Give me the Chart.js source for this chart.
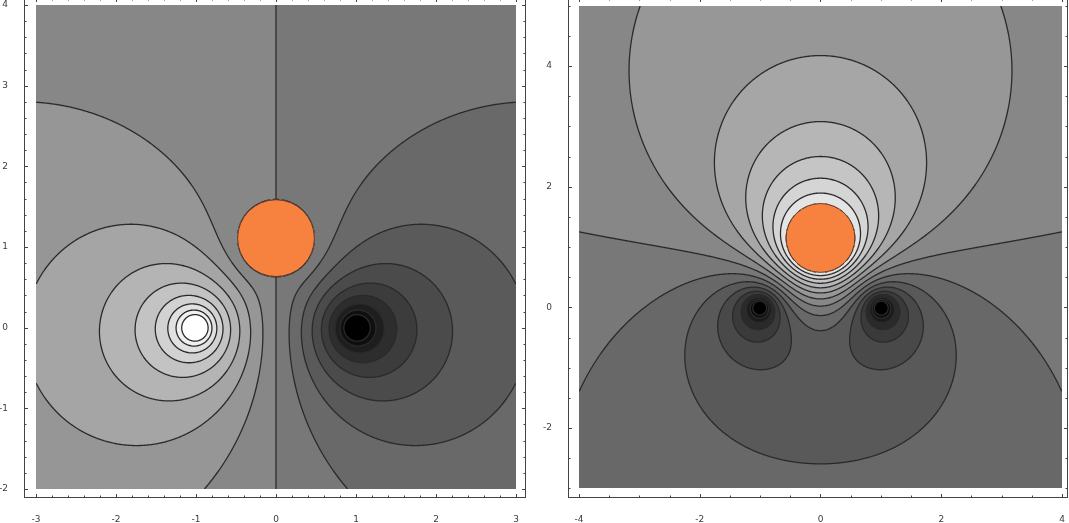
<!DOCTYPE html>
<html>
<head>
<meta charset="utf-8">
<script src="https://cdn.jsdelivr.net/npm/chart.js@4.4.1/dist/chart.umd.min.js"></script>
<style>
  html, body { margin: 0; padding: 0; background: #fff; overflow: hidden; }
  #wrap { position: relative; width: 1069px; height: 523px; overflow: hidden; }
  .box { position: absolute; top: -3px; }
  #boxA { left: 0; }
  #boxB { left: 536px; }
</style>
</head>
<body>
<div id="wrap">
  <div class="box" id="boxA"><canvas id="chartA" width="536" height="526"></canvas></div>
  <div class="box" id="boxB"><canvas id="chartB" width="533" height="526"></canvas></div>
</div>
<script>
// left panel: +1 / -1 line charges and a grounded cylinder above them
const chargeXA = [-1, 1];
const chargeYA = [0, 0];
const chargeQA = [1, -1];
const cylCenterA = [0, 1.11];
const cylRadiusA = 0.48;
const levelsA = [-2.4, -2.1, -1.8, -1.5, -1.2, -0.9, -0.6, -0.3, 0, 0.3, 0.6, 0.9, 1.2, 1.5, 1.8, 2.1, 2.4];
const xTicksA = [-3, -2, -1, 0, 1, 2, 3];
const yTicksA = [-2, -1, 0, 1, 2, 3, 4];

// right panel: two -1 line charges and the cylinder
const chargeXB = [-1, 1];
const chargeYB = [0, 0];
const chargeQB = [-1, -1];
const cylCenterB = [0, 1.15];
const cylRadiusB = 0.57;
const levelsB = [-2.165, -1.889, -1.613, -1.337, -1.061, -0.785, -0.509, -0.233, 0.043, 0.319, 0.595, 0.871, 1.147, 1.423, 1.699, 1.975];
const xTicksB = [-4, -2, 0, 2, 4];
const yTicksB = [-2, 0, 2, 4];

// charges plus their images in the cylinder
function buildSources(xs, ys, qs, center, r) {
    const src = [];
    for (let i = 0; i < xs.length; i++) {
        src.push({ x: xs[i], y: ys[i], q: qs[i] });
        const dx = xs[i] - center[0], dy = ys[i] - center[1];
        const k = r * r / (dx * dx + dy * dy);
        src.push({ x: center[0] + k * dx, y: center[1] + k * dy, q: -qs[i] });
    }
    return src;
}

function potential(src, x, y) {
    let v = 0;
    for (const s of src) {
        const dx = x - s.x, dy = y - s.y;
        v -= s.q * 0.5 * Math.log(dx * dx + dy * dy + 1e-12);
    }
    return v;
}

const fieldPlugin = {
    id: 'field',
    beforeDatasetsDraw(chart, args, o) {
        const ctx = chart.ctx;
        const xs = chart.scales.x, ys = chart.scales.y;
        const left = Math.round(xs.getPixelForValue(o.xRange[0]));
        const right = Math.round(xs.getPixelForValue(o.xRange[1]));
        const top = Math.round(ys.getPixelForValue(o.yRange[1]));
        const bottom = Math.round(ys.getPixelForValue(o.yRange[0]));
        const w = right - left, h = bottom - top;
        const vals = new Float64Array(w * h);
        const xv = new Float64Array(w), yv = new Float64Array(h);
        for (let i = 0; i < w; i++) xv[i] = xs.getValueForPixel(left + i + 0.5);
        for (let j = 0; j < h; j++) yv[j] = ys.getValueForPixel(top + j + 0.5);
        for (let j = 0; j < h; j++) {
            for (let i = 0; i < w; i++) vals[j * w + i] = potential(o.sources, xv[i], yv[j]);
        }
        const levels = o.levels;

        // shaded bands
        const off = document.createElement('canvas');
        off.width = w; off.height = h;
        const octx = off.getContext('2d');
        const img = octx.createImageData(w, h);
        for (let k = 0; k < w * h; k++) {
            let band = 0;
            while (band < levels.length && vals[k] > levels[band]) band++;
            const g = Math.max(0, Math.min(255, Math.round(o.refGray + (band - o.refBand) * o.step)));
            img.data[4 * k] = g; img.data[4 * k + 1] = g; img.data[4 * k + 2] = g; img.data[4 * k + 3] = 255;
        }
        octx.putImageData(img, 0, 0);
        ctx.drawImage(off, left, top);

        // contour lines (marching squares on the pixel grid)
        const cx = o.center[0], cy = o.center[1], cr = o.radius;
        ctx.save();
        ctx.beginPath();
        ctx.rect(left, top, w, h);
        ctx.clip();
        ctx.beginPath();
        const ox = left + 0.5, oy = top + 0.5;
        for (let j = 0; j < h - 1; j++) {
            for (let i = 0; i < w - 1; i++) {
                const mx = (xv[i] + xv[i + 1]) / 2 - cx, my = (yv[j] + yv[j + 1]) / 2 - cy;
                if (mx * mx + my * my < cr * cr) continue;
                const a = vals[j * w + i], b = vals[j * w + i + 1];
                const c = vals[(j + 1) * w + i + 1], d = vals[(j + 1) * w + i];
                const lo = Math.min(a, b, c, d), hi = Math.max(a, b, c, d);
                for (const L of levels) {
                    if (L <= lo || L > hi) continue;
                    const pts = [];
                    if ((a >= L) !== (b >= L)) pts.push([i + (L - a) / (b - a), j]);
                    if ((b >= L) !== (c >= L)) pts.push([i + 1, j + (L - b) / (c - b)]);
                    if ((d >= L) !== (c >= L)) pts.push([i + (L - d) / (c - d), j + 1]);
                    if ((a >= L) !== (d >= L)) pts.push([i, j + (L - a) / (d - a)]);
                    if (pts.length === 2) {
                        ctx.moveTo(ox + pts[0][0], oy + pts[0][1]);
                        ctx.lineTo(ox + pts[1][0], oy + pts[1][1]);
                    } else if (pts.length === 4) {
                        const mid = (a + b + c + d) / 4;
                        const pairs = ((mid >= L) === (a >= L)) ? [[0, 1], [2, 3]] : [[0, 3], [1, 2]];
                        for (const p of pairs) {
                            ctx.moveTo(ox + pts[p[0]][0], oy + pts[p[0]][1]);
                            ctx.lineTo(ox + pts[p[1]][0], oy + pts[p[1]][1]);
                        }
                    }
                }
            }
        }
        ctx.strokeStyle = '#2a2a2a';
        ctx.lineWidth = 1.3;
        ctx.lineCap = 'round';
        ctx.stroke();
        ctx.restore();
    }
};

const framePlugin = {
    id: 'frame',
    afterDraw(chart, args, o) {
        const ctx = chart.ctx, ca = chart.chartArea;
        const xs = chart.scales.x, ys = chart.scales.y;
        ctx.save();
        ctx.strokeStyle = '#444';
        ctx.lineWidth = 1;
        ctx.strokeRect(ca.left + 0.5, ca.top + 0.5, ca.right - ca.left - 1, ca.bottom - ca.top - 1);
        ctx.beginPath();
        const step = (scale, minor, majors, draw) => {
            for (let k = Math.ceil(scale.min / minor - 1e-9); k * minor <= scale.max + 1e-9; k++) {
                const v = k * minor;
                const major = majors.some(m => Math.abs(m - v) < 1e-6);
                draw(v, major ? 4 : 2.5);
            }
        };
        step(xs, o.xMinor, o.xTicks, (v, len) => {
            const p = Math.round(xs.getPixelForValue(v)) + 0.5;
            ctx.moveTo(p, ca.bottom); ctx.lineTo(p, ca.bottom - len);
            ctx.moveTo(p, ca.top); ctx.lineTo(p, ca.top + len);
        });
        step(ys, o.yMinor, o.yTicks, (v, len) => {
            const p = Math.round(ys.getPixelForValue(v)) + 0.5;
            ctx.moveTo(ca.left, p); ctx.lineTo(ca.left + len, p);
            ctx.moveTo(ca.right, p); ctx.lineTo(ca.right - len, p);
        });
        ctx.stroke();
        ctx.restore();
    }
};

function radiusPx(chart, r) {
    const s = chart.scales.x;
    return s.getPixelForValue(r) - s.getPixelForValue(0);
}

function makeChart(id, p) {
    const tickFont = { family: 'DejaVu Sans', size: 9 };
    return new Chart(document.getElementById(id), {
        type: 'scatter',
        data: {
            datasets: [{
                data: [{ x: p.center[0], y: p.center[1] }],
                pointRadius: ctx => radiusPx(ctx.chart, p.radius),
                pointHoverRadius: ctx => radiusPx(ctx.chart, p.radius),
                backgroundColor: '#f7823f',
                borderColor: '#5e3d2a',
                borderWidth: 1
            }]
        },
        options: {
            responsive: false,
            animation: false,
            events: [],
            layout: { padding: { left: 0, right: p.padRight, top: 1, bottom: 0 } },
            plugins: {
                legend: { display: false },
                tooltip: { enabled: false },
                field: {
                    sources: buildSources(p.qx, p.qy, p.q, p.center, p.radius),
                    levels: p.levels, xRange: p.xRange, yRange: p.yRange,
                    center: p.center, radius: p.radius,
                    refBand: 9, refGray: 135, step: p.grayStep
                },
                frame: { xTicks: p.xTicks, yTicks: p.yTicks, xMinor: p.xMinor, yMinor: p.yMinor }
            },
            scales: {
                x: {
                    type: 'linear', min: p.xMin, max: p.xMax,
                    afterBuildTicks: s => { s.ticks = p.xTicks.map(v => ({ value: v })); },
                    afterFit: s => { s.height = 25; s.paddingLeft = 0; s.paddingRight = 0; },
                    grid: { display: false },
                    border: { display: false },
                    ticks: { font: tickFont, color: '#3a3a3a', padding: 8, maxRotation: 0, autoSkip: false, callback: v => String(v) }
                },
                y: {
                    type: 'linear', min: p.yMin, max: p.yMax,
                    afterBuildTicks: s => { s.ticks = p.yTicks.map(v => ({ value: v })); },
                    afterFit: s => { s.width = p.yWidth; s.paddingTop = 0; s.paddingBottom = 0; },
                    grid: { display: false },
                    border: { display: false },
                    ticks: { font: tickFont, color: '#3a3a3a', padding: 8, autoSkip: false, callback: v => String(v) }
                }
            }
        },
        plugins: [fieldPlugin, framePlugin]
    });
}

makeChart('chartA', {
    qx: chargeXA, qy: chargeYA, q: chargeQA, center: cylCenterA, radius: cylRadiusA,
    levels: levelsA, xTicks: xTicksA, yTicks: yTicksA,
    xRange: [-3, 3], yRange: [-2, 4],
    xMin: -3.15, xMax: 3.125, yMin: -2.1116, yMax: 4.0868,
    xMinor: 0.2, yMinor: 0.2, yWidth: 24, padRight: 10, grayStep: 15
});

makeChart('chartB', {
    qx: chargeXB, qy: chargeYB, q: chargeQB, center: cylCenterB, radius: cylRadiusB,
    levels: levelsB, xTicks: xTicksB, yTicks: yTicksB,
    xRange: [-4, 4], yRange: [-3, 5],
    xMin: -4.1822, xMax: 4.0994, yMin: -3.1602, yMax: 5.1271,
    xMinor: 0.5, yMinor: 0.5, yWidth: 32, padRight: 1, grayStep: 15.5
});
</script>
</body>
</html>
